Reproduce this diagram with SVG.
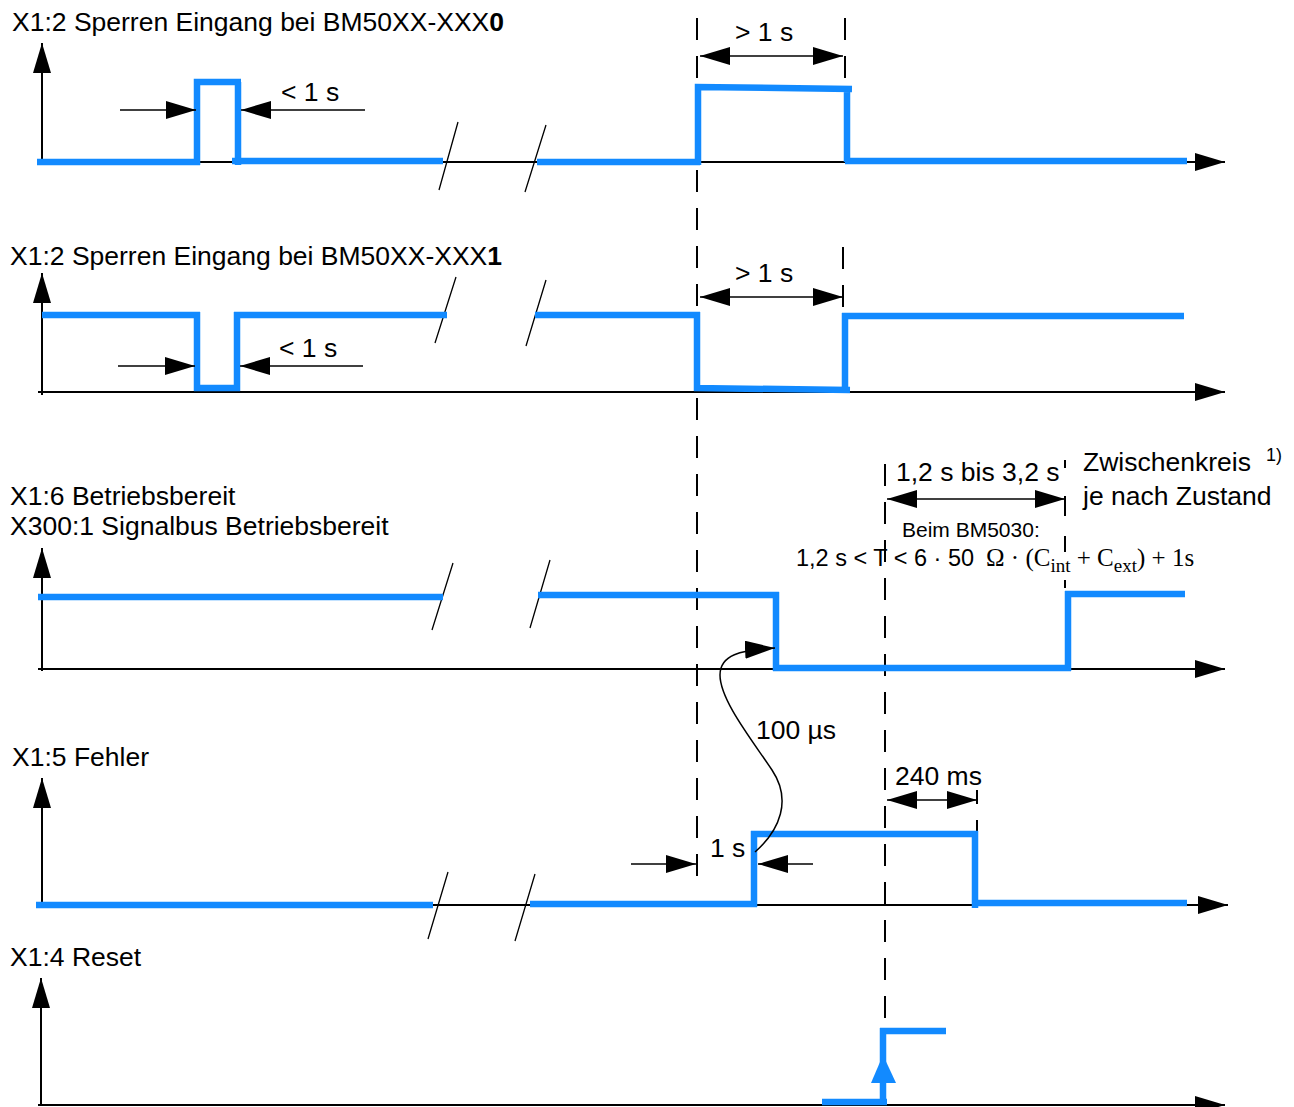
<svg xmlns="http://www.w3.org/2000/svg" width="1294" height="1107" viewBox="0 0 1294 1107">
<style>
text{font-family:"Liberation Sans",Arial,sans-serif;font-size:26.5px;fill:#000}
.sig{fill:none;stroke:#128AFF;stroke-width:6.5;stroke-linecap:butt;stroke-linejoin:miter}
.ax{fill:none;stroke:#000;stroke-width:2}
.dim{fill:none;stroke:#000;stroke-width:1.5}
.brk{fill:none;stroke:#000;stroke-width:1.3}
.dash{fill:none;stroke:#000;stroke-width:2;stroke-dasharray:22 16}
.serif{font-family:"Liberation Serif","Times New Roman",serif}
</style>
<defs>
<marker id="ah" markerUnits="userSpaceOnUse" markerWidth="30" markerHeight="18" refX="30" refY="9" orient="auto-start-reverse" viewBox="0 0 30 18">
<path d="M0,0 L30,9 L0,18 z" fill="#000"/>
</marker>
</defs>

<g id="axes">
<path class="ax" d="M42,162 H1225" marker-end="url(#ah)"/>
<path class="ax" d="M42,162 V43" marker-end="url(#ah)"/>
<path class="ax" d="M38,392 H1225" marker-end="url(#ah)"/>
<path class="ax" d="M42,395 V273" marker-end="url(#ah)"/>
<path class="ax" d="M38,669 H1225" marker-end="url(#ah)"/>
<path class="ax" d="M42,671 V548" marker-end="url(#ah)"/>
<path class="ax" d="M42,905 H1228" marker-end="url(#ah)"/>
<path class="ax" d="M42,905 V778" marker-end="url(#ah)"/>
<path class="ax" d="M38,1105 H1225" marker-end="url(#ah)"/>
<path class="ax" d="M41,1105 V978" marker-end="url(#ah)"/>
</g>

<g id="dashed-lines">
<path class="dash" d="M697,18 V880"/>
<path class="dash" d="M845,18 V162"/>
<path class="dash" d="M843,247 V316"/>
<path class="dash" d="M885,464 V1030"/>
<path class="dash" d="M1065,460 V594" style="stroke-dasharray:8 28 20 20 16 28"/>
<path class="dash" d="M977,790 V870" style="stroke-dasharray:14 16 50 10"/>
</g>

<g id="breaks">
<path class="brk" d="M458,122 L439,190 M546,125 L525,192"/>
<path class="brk" d="M456,277 L435,343 M546,280 L526,346"/>
<path class="brk" d="M453,563 L432,630 M550,560 L530,628"/>
<path class="brk" d="M448,872 L428,939 M535,874 L515,941"/>
</g>

<g id="signal-x1-2-xxx0">
<text x="12" y="31">X1:2 Sperren Eingang bei BM50XX-XXX<tspan font-weight="bold">0</tspan></text>
<path class="sig" d="M37,162 H200 M197,165 V82 H241 M238,82 V165 M232,161 H443"/>
<path class="sig" d="M537,162 H700 M698,165 V87 L852,89 M847,89 V162 M845,161 H1187"/>
</g>

<g id="signal-x1-2-xxx1">
<text x="10" y="265">X1:2 Sperren Eingang bei BM50XX-XXX<tspan font-weight="bold">1</tspan></text>
<path class="sig" d="M42,315 H200 M197,312 V391 M194,388 H240 M237,391 V312 M234,315 H447"/>
<path class="sig" d="M535,315 H700 M697,312 V391 M694,388 L850,390 M845,393 V313 M842,316 H1184"/>
</g>

<g id="signal-x1-6">
<text x="10" y="505">X1:6 Betriebsbereit</text>
<text x="10" y="535">X300:1 Signalbus Betriebsbereit</text>
<path class="sig" d="M38,597 H443"/>
<path class="sig" d="M538,595 H779 M776,592 V671 M773,668 H1071 M1068,671 V591 M1065,594 H1185"/>
</g>

<g id="signal-x1-5">
<text x="12" y="766">X1:5 Fehler</text>
<path class="sig" d="M36,905 H433"/>
<path class="sig" d="M530,904 H757 M754,907 V831 M751,834 H978 M975,831 V908 M972,903 H1187"/>
</g>

<g id="signal-x1-4">
<text x="10" y="966">X1:4 Reset</text>
<path class="sig" d="M822,1102 H887 M883,1105 V1028 M880,1031 H946"/>
<polygon points="883,1055 871,1083 896,1083" fill="#128AFF"/>
</g>

<g id="connectors">
<path class="dim" d="M120,110 H196" marker-end="url(#ah)"/>
<path class="dim" d="M365,110 H241" marker-end="url(#ah)"/>
<text x="281" y="101">&lt; 1 s</text>
<path class="dim" d="M700,56 H843" marker-start="url(#ah)" marker-end="url(#ah)"/>
<text x="735" y="41">&gt; 1 s</text>

<path class="dim" d="M118,366 H195" marker-end="url(#ah)"/>
<path class="dim" d="M363,366 H240" marker-end="url(#ah)"/>
<text x="279" y="357">&lt; 1 s</text>
<path class="dim" d="M700,297 H843" marker-start="url(#ah)" marker-end="url(#ah)"/>
<text x="735" y="282">&gt; 1 s</text>

<path class="dim" d="M887,499 H1065" marker-start="url(#ah)" marker-end="url(#ah)"/>
<text x="896" y="481">1,2 s bis 3,2 s</text>
<text x="1083" y="471">Zwischenkreis</text>
<text x="1266" y="461" style="font-size:18px">1)</text>
<text x="1083" y="505">je nach Zustand</text>
<text x="902" y="537" style="font-size:21px">Beim BM5030:</text>
<text x="796" y="566" style="font-size:23.5px">1,2 s &lt; T &lt; 6 · 50</text>
<text class="serif" x="986" y="566" style="font-size:25px">Ω · (C<tspan style="font-size:19px" dy="6">int</tspan><tspan dy="-6"> + C</tspan><tspan style="font-size:19px" dy="6">ext</tspan><tspan dy="-6">) + 1s</tspan></text>

<path class="dim" d="M755,852 C780,830 792,800 772,770 C752,740 720,700 720,675 C720,655 740,650 775,648" stroke-width="1.2" marker-end="url(#ah)"/>
<text x="756" y="739">100 µs</text>

<path class="dim" d="M631,864 H696" marker-end="url(#ah)"/>
<path class="dim" d="M813,864 H758" marker-end="url(#ah)"/>
<text x="710" y="857">1 s</text>

<path class="dim" d="M887,800 H977" marker-start="url(#ah)" marker-end="url(#ah)"/>
<text x="895" y="785">240 ms</text>
</g>
</svg>
